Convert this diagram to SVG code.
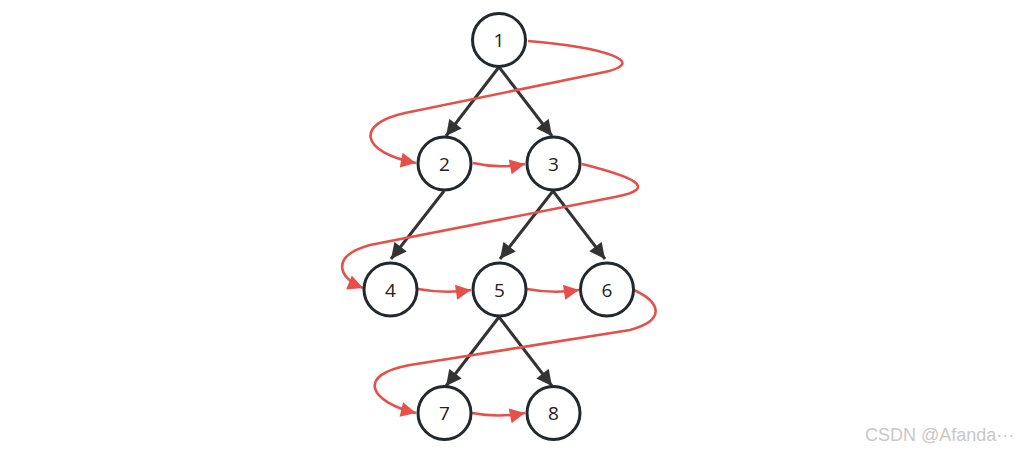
<svg xmlns="http://www.w3.org/2000/svg" width="1021" height="451" viewBox="0 0 1021 451">
<defs>
<style>
.node circle{fill:#fff;stroke:#22282e;stroke-width:3}
.node text{font-family:"Open Sans","Liberation Sans",Arial,sans-serif;font-size:19px;fill:#222;text-anchor:middle;dominant-baseline:central}
.edge{stroke:#333;stroke-width:3;fill:none}
.trav{stroke:#e5504b;stroke-width:2.6;fill:none}
.wm{font-family:"Liberation Sans",Arial,sans-serif;font-size:18px;fill:#c8c8c8}
</style>
<marker id="ab" viewBox="0 0 10 10" refX="10" refY="5" markerWidth="5.8" markerHeight="5.2" markerUnits="strokeWidth" orient="auto"><path d="M0,0 L10,5 L0,10 z" fill="#333"/></marker>
<marker id="ar" viewBox="0 0 10 10" refX="10" refY="5" markerWidth="7.2" markerHeight="5.8" markerUnits="strokeWidth" orient="auto"><path d="M0,0 L10,5 L0,10 z" fill="#e5504b"/></marker>
</defs>
<rect width="1021" height="451" fill="#fff"/>
<g id="connectors">
<path class="edge" marker-end="url(#ab)" d="M499 67 L446 136"/>
<path class="edge" marker-end="url(#ab)" d="M499 67 L552 136"/>
<path class="edge" marker-end="url(#ab)" d="M444 191 L391 259"/>
<path class="edge" marker-end="url(#ab)" d="M553 191 L500 259"/>
<path class="edge" marker-end="url(#ab)" d="M553 191 L605 259"/>
<path class="edge" marker-end="url(#ab)" d="M499 317 L446 386"/>
<path class="edge" marker-end="url(#ab)" d="M499 317 L552 386"/>
<path class="trav" marker-end="url(#ar)" d="M528 41 C600 47 655 62 600 73 L405 113 C355 124 360 152 416 163"/>
<path class="trav" marker-end="url(#ar)" d="M473 163 Q499 169 525 164"/>
<path class="trav" marker-end="url(#ar)" d="M582 164 C630 176 662 188 615 197 L370 245 C330 256 338 278 363 288"/>
<path class="trav" marker-end="url(#ar)" d="M418 289 Q445 294 471 290"/>
<path class="trav" marker-end="url(#ar)" d="M527 289 Q553 294 579 290"/>
<path class="trav" marker-end="url(#ar)" d="M634 290 C660 302 667 320 630 330 L410 365 C355 375 370 402 416 413"/>
<path class="trav" marker-end="url(#ar)" d="M472 413 Q499 418 525 413"/>
</g>
<g id="n1" class="node"><circle cx="499" cy="40" r="26.5"/><text x="499" y="40">1</text></g>
<g id="n2" class="node"><circle cx="444.5" cy="163.5" r="26.5"/><text x="444.5" y="163.5">2</text></g>
<g id="n3" class="node"><circle cx="553.5" cy="163.5" r="26.5"/><text x="553.5" y="163.5">3</text></g>
<g id="n4" class="node"><circle cx="390.5" cy="289.5" r="26.5"/><text x="390.5" y="289.5">4</text></g>
<g id="n5" class="node"><circle cx="499.5" cy="289.5" r="26.5"/><text x="499.5" y="289.5">5</text></g>
<g id="n6" class="node"><circle cx="607" cy="289.5" r="26.5"/><text x="607" y="289.5">6</text></g>
<g id="n7" class="node"><circle cx="444.5" cy="413" r="26.5"/><text x="444.5" y="413">7</text></g>
<g id="n8" class="node"><circle cx="553.5" cy="413" r="26.5"/><text x="553.5" y="413">8</text></g>
<text class="wm" x="865" y="441">CSDN @Afanda···</text>
</svg>
